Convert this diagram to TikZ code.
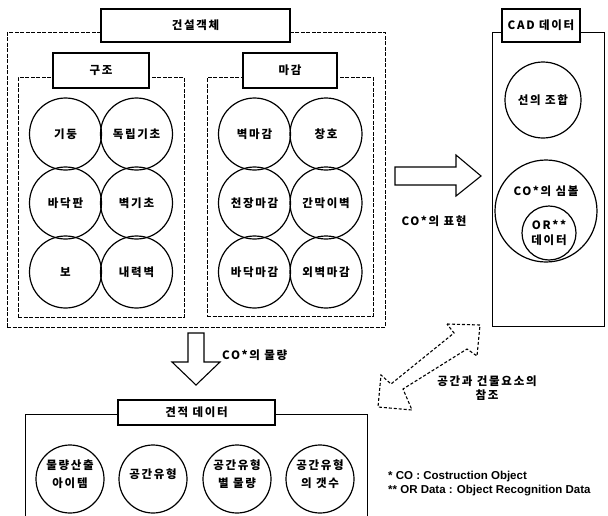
\documentclass[tikz,border=0pt]{standalone}
\usepackage{fontspec}
\setmainfont{Liberation Sans}
\newfontfamily\kr{Noto Sans CJK KR}[LetterSpace=15]
\begin{document}
\begin{tikzpicture}[x=1pt,y=-1pt,
  kt/.style={font=\kr\bfseries\fontsize{11.5}{18}\selectfont, inner sep=0pt, align=center},
  cont/.style={draw, line width=0.8pt, dash pattern=on 4pt off 1.5pt, inner sep=0pt},
  solidcont/.style={draw, line width=0.9pt, inner sep=0pt},
  titlebox/.style={draw, fill=white, line width=1.1pt, inner sep=0pt, kt},
  circ/.style={circle, draw, line width=1.2pt, inner sep=0pt, kt},
  blockarrow/.style={draw, line width=1.1pt, fill=white, line join=miter},
  dasharrow/.style={draw, line width=1.1pt, dash pattern=on 3pt off 2pt},
  fn/.style={font=\bfseries\fontsize{11.5}{12}\selectfont, inner sep=0pt, anchor=west}]
\useasboundingbox (0,0) rectangle (608,515);

% construction object container
\node[cont, minimum width=378pt, minimum height=295pt] (obj) at (196,179.5) {};
\node[titlebox, minimum width=189pt, minimum height=33pt] (objt) at (195.5,25.5) {건설객체};

% structure
\node[cont, minimum width=166pt, minimum height=240pt] (str) at (101,197) {};
\node[titlebox, minimum width=96pt, minimum height=35pt] (strt) at (101,70.5) {구조};
\node[circ, minimum size=72pt] (s1) at (65.5,134) {기둥};
\node[circ, minimum size=72pt] (s2) at (136.5,134) {독립기초};
\node[circ, minimum size=72pt] (s3) at (65.5,203) {바닥판};
\node[circ, minimum size=72pt] (s4) at (136.5,203) {벽기초};
\node[circ, minimum size=72pt] (s5) at (65.5,272) {보};
\node[circ, minimum size=72pt] (s6) at (136.5,272) {내력벽};

% finish
\node[cont, minimum width=166pt, minimum height=239pt] (fin) at (290,196.5) {};
\node[titlebox, minimum width=94pt, minimum height=35pt] (fint) at (290,70.5) {마감};
\node[circ, minimum size=72pt] (f1) at (254.5,134) {벽마감};
\node[circ, minimum size=72pt] (f2) at (326,134) {창호};
\node[circ, minimum size=72pt] (f3) at (254.5,203) {천장마감};
\node[circ, minimum size=72pt] (f4) at (326,203) {간막이벽};
\node[circ, minimum size=72pt] (f5) at (254.5,272) {바닥마감};
\node[circ, minimum size=72pt] (f6) at (326,272) {외벽마감};

% CAD data
\node[solidcont, minimum width=112pt, minimum height=294pt] (cad) at (548,179) {};
\node[titlebox, minimum width=78pt, minimum height=33pt] (cadt) at (541,25.5) {CAD 데이터};
\node[circ, minimum size=76pt] (line) at (543,100) {선의 조합};
\node[circ, minimum size=102pt] (sym) at (546,211) {};
\node[kt] (symt) at (546,191) {CO*의 심볼};
\node[circ, minimum size=54pt] (ord) at (549,233) {OR**\\[-3pt]데이터};

% arrow: representation
\draw[blockarrow] (395,167) -- (456,167) -- (456,155) -- (481,176) -- (456,196) -- (456,185) -- (395,185) -- cycle;
\node[kt] (lblr) at (434,221) {CO*의 표현};

% arrow: quantity
\draw[blockarrow] (188,333) -- (204,333) -- (204,362) -- (220,362) -- (196,385) -- (172,362) -- (188,362) -- cycle;
\node[kt, anchor=west] (lblq) at (222,355) {CO*의 물량};

% estimate data
\draw[line width=0.9pt] (25,516) -- (25,414) -- (367,414) -- (367,516);
\node[titlebox, minimum width=157pt, minimum height=25pt] (estt) at (196.5,412.5) {견적 데이터};
\node[circ, minimum size=68pt] (e1) at (70,479) {};
\node[kt] (e1t) at (70,474) {물량산출\\아이템};
\node[circ, minimum size=68pt] (e2) at (153,479) {};
\node[kt] (e2t) at (153,474) {공간유형};
\node[circ, minimum size=68pt] (e3) at (237,479) {};
\node[kt] (e3t) at (237,474) {공간유형\\별 물량};
\node[circ, minimum size=68pt] (e4) at (320,479) {};
\node[kt] (e4t) at (320,474) {공간유형\\의 갯수};

% dashed double arrow: reference
\draw[dasharrow] (447,324) -- (480,325) -- (477,356) -- (467,349) -- (403,389) -- (412,410)
  -- (378,407) -- (381,375) -- (391,384) -- (454,333) -- cycle;
\node[kt] (lblref) at (487,388) {공간과 건물요소의\\[-4pt]참조};

% footnotes
\node[fn] (fn1) at (388,477) {* CO : Costruction Object};
\node[fn] (fn2) at (388,491) {** OR Data : Object Recognition Data};
\end{tikzpicture}
\end{document}
